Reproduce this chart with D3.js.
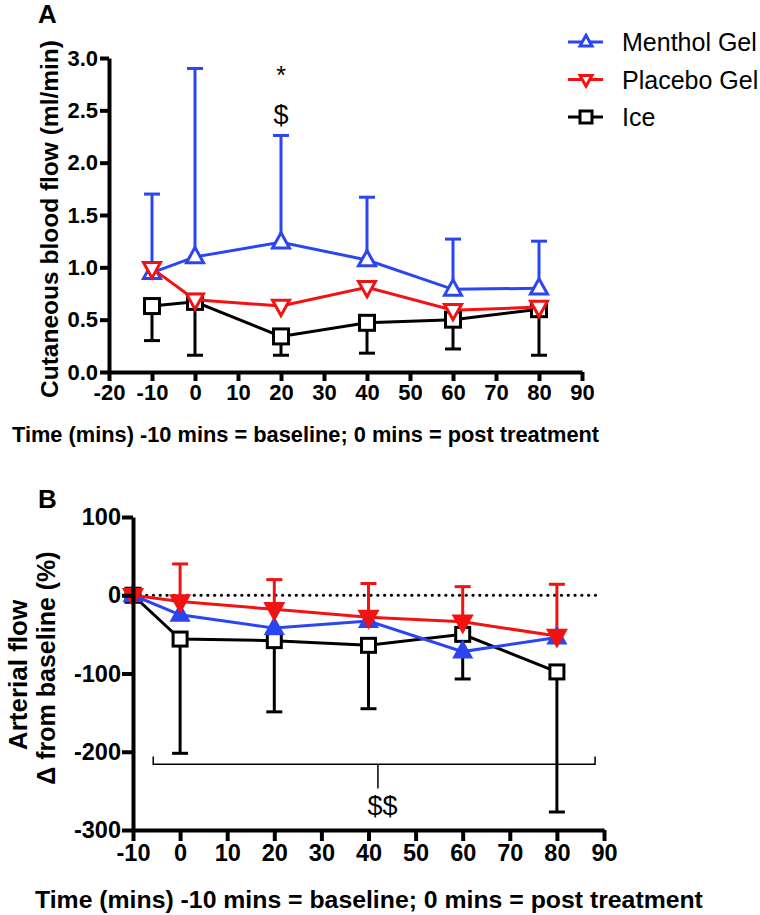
<!DOCTYPE html>
<html>
<head>
<meta charset="utf-8">
<script src="https://cdn.jsdelivr.net/npm/d3@7"></script>
<style>
  body { margin: 0; background: #fff; }
  svg text { font-family: "Liberation Sans", Arial, sans-serif; }
</style>
</head>
<body>
<svg id="chart" width="760" height="915"></svg>
<script>
// ---- data ----
var times = [-10, 0, 20, 40, 60, 80];

// Panel A: cutaneous blood flow (ml/min)
var mentholA = [0.95, 1.10, 1.24, 1.07, 0.79, 0.80];
var mentholA_up = [1.70, 2.90, 2.26, 1.67, 1.27, 1.25];
var placeboA = [0.99, 0.69, 0.63, 0.81, 0.59, 0.62];
var iceA = [0.63, 0.67, 0.34, 0.47, 0.50, 0.60];
var iceA_low = [0.30, 0.16, 0.16, 0.18, 0.22, 0.16];

// Panel B: arterial flow, % change from baseline
var mentholB = [0, -25, -42, -33, -72, -54];
var placeboB = [0, -8, -18, -28, -34, -52];
var placeboB_up = [0, 40, 20, 15, 11, 14];
var iceB = [0, -56, -58, -64, -50, -98];
var iceB_low = [0, -202, -149, -145, -107, -277];

var xTicksA = [-20, -10, 0, 10, 20, 30, 40, 50, 60, 70, 80, 90];
var yTicksA = [0, 0.5, 1.0, 1.5, 2.0, 2.5, 3.0];
var xTicksB = [-10, 0, 10, 20, 30, 40, 50, 60, 70, 80, 90];
var yTicksB = [-300, -200, -100, 0, 100];

var legendLabels = ["Menthol Gel", "Placebo Gel", "Ice"];
var xTitle = "Time (mins) -10 mins = baseline; 0 mins = post treatment";

var BLUE = "#2b45f0", RED = "#f21212", BLACK = "#000";

var svg = d3.select("#chart");

// plain hyphen for negatives, like the original
var hyph = function(f) { return function(d) { return f(d).replace("\u2212", "-"); }; };

function tri(size, up) {
  var h = size * 0.9, w = size / 2;
  return up ? "M0," + (-h * 0.62) + "L" + w + "," + (h * 0.38) + "L" + (-w) + "," + (h * 0.38) + "Z"
            : "M0," + (h * 0.62) + "L" + w + "," + (-h * 0.38) + "L" + (-w) + "," + (-h * 0.38) + "Z";
}

function drawSeries(g, x, y, vals, color, marker, filled, size) {
  var pts = times.map(function(t, i) { return [t, vals[i]]; });
  g.append("path")
    .attr("d", d3.line().x(function(d) { return x(d[0]); }).y(function(d) { return y(d[1]); })(pts))
    .attr("fill", "none").attr("stroke", color).attr("stroke-width", 3);
  var m = g.selectAll(null).data(pts).enter();
  if (marker == "sq") {
    m.append("rect")
      .attr("x", function(d) { return x(d[0]) - size / 2; })
      .attr("y", function(d) { return y(d[1]) - size / 2; })
      .attr("width", size).attr("height", size)
      .attr("fill", filled ? color : "#fff").attr("stroke", color).attr("stroke-width", 3);
  } else {
    m.append("path")
      .attr("transform", function(d) { return "translate(" + x(d[0]) + "," + y(d[1]) + ")"; })
      .attr("d", tri(size, marker == "up"))
      .attr("fill", filled ? color : "#fff").attr("stroke", color).attr("stroke-width", 3)
      .attr("stroke-linejoin", "miter");
  }
}

function drawErr(g, x, y, vals, ends, color) {
  times.forEach(function(t, i) {
    if (ends[i] == vals[i]) return;
    g.append("line").attr("x1", x(t)).attr("x2", x(t))
      .attr("y1", y(vals[i])).attr("y2", y(ends[i]))
      .attr("stroke", color).attr("stroke-width", 3);
    g.append("line").attr("x1", x(t) - 8).attr("x2", x(t) + 8)
      .attr("y1", y(ends[i])).attr("y2", y(ends[i]))
      .attr("stroke", color).attr("stroke-width", 3);
  });
}

function styleAxis(g, fs) {
  g.select(".domain").attr("stroke-width", 4).attr("stroke", "#000");
  g.selectAll(".tick line").attr("stroke-width", 4).attr("stroke", "#000");
  g.selectAll(".tick text").attr("font-size", fs).attr("font-weight", "bold").attr("fill", "#000");
}

// ================= Panel A =================
var xA = d3.scaleLinear().domain([-20, 90]).range([109, 582]);
var yA = d3.scaleLinear().domain([0, 3]).range([372, 58]);
var gA = svg.append("g");

drawErr(gA, xA, yA, mentholA, mentholA_up, BLUE);
drawErr(gA, xA, yA, iceA, iceA_low, BLACK);
drawSeries(gA, xA, yA, iceA, BLACK, "sq", false, 15);
drawSeries(gA, xA, yA, mentholA, BLUE, "up", false, 17);
drawSeries(gA, xA, yA, placeboA, RED, "down", false, 17);

var axA_x = gA.append("g").attr("transform", "translate(0,372)")
  .call(d3.axisBottom(xA).tickValues(xTicksA).tickFormat(hyph(d3.format("d")))
    .tickSize(9).tickSizeOuter(0).tickPadding(3));
styleAxis(axA_x, 22);
var axA_y = gA.append("g").attr("transform", "translate(109,0)")
  .call(d3.axisLeft(yA).tickValues(yTicksA).tickFormat(d3.format(".1f")).tickSize(9).tickSizeOuter(0).tickPadding(2));
styleAxis(axA_y, 22);

gA.append("text").attr("x", xA(20)).attr("y", 84).attr("text-anchor", "middle")
  .attr("font-size", 25).text("*");
gA.append("text").attr("x", xA(20)).attr("y", 124).attr("text-anchor", "middle")
  .attr("font-size", 27).text("$");

gA.append("text").attr("x", 38).attr("y", 23).attr("font-size", 26).attr("font-weight", "bold").text("A");
gA.append("text").attr("transform", "translate(58,219) rotate(-90)").attr("text-anchor", "middle")
  .attr("font-size", 24.5).attr("font-weight", "bold").text("Cutaneous blood flow (ml/min)");
gA.append("text").attr("x", 12).attr("y", 442).attr("font-size", 21.8).attr("font-weight", "bold").text(xTitle);

// legend
var legColors = [BLUE, RED, BLACK];
var legMarks = ["up", "down", "sq"];
var leg = svg.append("g");
legendLabels.forEach(function(lab, i) {
  var ly = 42 + i * 37.5;
  leg.append("line").attr("x1", 568).attr("x2", 603).attr("y1", ly).attr("y2", ly)
    .attr("stroke", legColors[i]).attr("stroke-width", 3);
  if (legMarks[i] == "sq") {
    leg.append("rect").attr("x", 580).attr("y", ly - 6).attr("width", 12).attr("height", 12)
      .attr("fill", "#fff").attr("stroke", BLACK).attr("stroke-width", 3);
  } else {
    leg.append("path").attr("transform", "translate(586," + ly + ")")
      .attr("d", tri(12, legMarks[i] == "up"))
      .attr("fill", "#fff").attr("stroke", legColors[i]).attr("stroke-width", 3);
  }
  leg.append("text").attr("x", 622).attr("y", ly + 9).attr("font-size", 25).text(lab);
});

// ================= Panel B =================
var xB = d3.scaleLinear().domain([-10, 90]).range([133, 604]);
var yB = d3.scaleLinear().domain([-300, 100]).range([830, 517]);
var gB = svg.append("g");

gB.append("line").attr("x1", xB(-10)).attr("x2", xB(89)).attr("y1", yB(0)).attr("y2", yB(0))
  .attr("stroke", "#000").attr("stroke-width", 3.2)
  .attr("stroke-dasharray", "0.1,6.7").attr("stroke-linecap", "round");

drawErr(gB, xB, yB, iceB, iceB_low, BLACK);
drawErr(gB, xB, yB, placeboB, placeboB_up, RED);
drawSeries(gB, xB, yB, iceB, BLACK, "sq", false, 14);
drawSeries(gB, xB, yB, mentholB, BLUE, "up", true, 16);
drawSeries(gB, xB, yB, placeboB, RED, "down", true, 17);

// significance bracket
var brY = -216;
gB.append("path")
  .attr("d", "M" + xB(-5.7) + "," + yB(-206) + "V" + yB(brY) + "H" + xB(88.1) + "V" + yB(-206))
  .attr("fill", "none").attr("stroke", "#000").attr("stroke-width", 1.5);
gB.append("line").attr("x1", xB(42)).attr("x2", xB(42)).attr("y1", yB(brY)).attr("y2", yB(-247))
  .attr("stroke", "#000").attr("stroke-width", 1.5);
gB.append("text").attr("x", xB(43)).attr("y", 815).attr("text-anchor", "middle")
  .attr("font-size", 27).text("$$");

var axB_x = gB.append("g").attr("transform", "translate(0,830)")
  .call(d3.axisBottom(xB).tickValues(xTicksB).tickFormat(hyph(d3.format("d")))
    .tickSize(11).tickSizeOuter(0).tickPadding(3));
styleAxis(axB_x, 23.5);
var axB_y = gB.append("g").attr("transform", "translate(133,0)")
  .call(d3.axisLeft(yB).tickValues(yTicksB).tickFormat(hyph(d3.format("d")))
    .tickSize(11).tickSizeOuter(0).tickPadding(1));
styleAxis(axB_y, 23.5);

gB.append("text").attr("x", 38).attr("y", 508).attr("font-size", 26).attr("font-weight", "bold").text("B");
gB.append("text").attr("transform", "translate(27,675) rotate(-90)").attr("text-anchor", "middle")
  .attr("font-size", 26).attr("font-weight", "bold").text("Arterial flow");
gB.append("text").attr("transform", "translate(55,668) rotate(-90)").attr("text-anchor", "middle")
  .attr("font-size", 25).attr("font-weight", "bold").text("\u0394 from baseline (%)");
gB.append("text").attr("x", 35).attr("y", 908).attr("font-size", 24.8).attr("font-weight", "bold").text(xTitle);
</script>
</body>
</html>
